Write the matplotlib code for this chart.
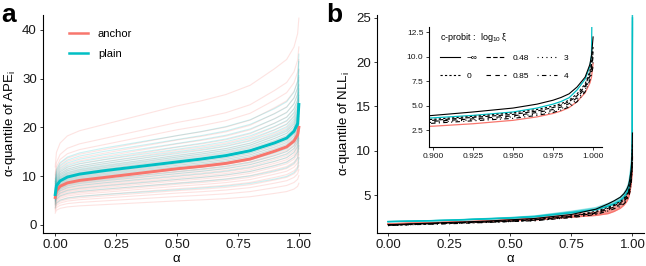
import numpy as np
import matplotlib
matplotlib.use("Agg")
import matplotlib.pyplot as plt

plt.rcParams['font.family'] = ['Liberation Sans', 'DejaVu Sans']
plt.rcParams['mathtext.fontset'] = 'custom'
plt.rcParams['mathtext.rm'] = 'Liberation Sans'
plt.rcParams['mathtext.it'] = 'Liberation Sans:italic'

RED = '#F8766D'
CYAN = '#00BFC4'

# ---- panel a data: alpha-quantile of APE_i ----
alpha_a = [0, 0.005, 0.02, 0.05, 0.1, 0.2, 0.3, 0.4, 0.5, 0.6, 0.7, 0.8, 0.9, 0.95, 0.98, 0.995, 1.0]
anchor_mean = [5.6, 7.0, 7.9, 8.6, 9.1, 9.7, 10.3, 10.9, 11.5, 12.0, 12.6, 13.5, 15.1, 16.0, 17.2, 18.5, 20.0]
plain_mean = [6.2, 8.0, 9.0, 9.8, 10.4, 11.1, 11.7, 12.3, 12.9, 13.5, 14.2, 15.2, 16.8, 17.8, 19.2, 20.8, 24.7]
# level of each faint per-item curve at alpha = 0.5
anchor_levels = [4.9, 5.8, 6.5, 7.0, 7.4, 7.9, 8.3, 8.6, 9.0, 9.3, 9.6, 9.9, 10.2, 10.5,
                 10.8, 11.0, 11.3, 11.6, 11.9, 12.2, 12.5, 12.8, 13.1, 13.5, 13.9, 14.3,
                 14.8, 15.3, 15.9, 16.6, 17.4, 18.3, 19.5, 21.0, 24.4]
plain_levels = [7.2, 8.5, 9.3, 10.0, 10.5, 10.9, 11.3, 11.6, 11.9, 12.2, 12.5, 12.8, 13.0,
                13.3, 13.6, 13.9, 14.2, 14.6, 15.0, 15.5, 16.0, 16.7, 17.5, 18.3]

# ---- panel b data: alpha-quantile of NLL_i ----
alpha_b = [0, 0.1, 0.25, 0.4, 0.5, 0.6, 0.75, 0.85, 0.9, 0.925, 0.95, 0.965, 0.975, 0.98,
           0.985, 0.99, 0.995, 0.998, 0.999, 1.0]
nll_anchor = [1.75, 1.8, 1.9, 2.0, 2.1, 2.2, 2.5, 2.7, 2.9, 3.15, 3.5, 3.85, 4.2, 4.45,
              4.8, 5.4, 6.3, 7.3, 7.9, 9.3]
nll_plain = [2.0, 2.05, 2.15, 2.3, 2.4, 2.55, 3.0, 3.35, 3.75, 4.0, 4.35, 4.75, 5.15, 5.42,
             5.8, 6.6, 7.7, 9.0, 10.2, 25.0]
anchor_spread = [1.0, 1.04, 1.08, 1.12, 1.16, 1.2, 1.24, 1.28, 1.32, 1.36, 1.4]
plain_spread = [0.95, 0.98, 1.01, 1.04, 1.07, 1.1, 1.14, 1.18]

xi_labels = ['\u2212\u221e', '0', '0.48', '0.85', '3', '4']
xi_dashes = [None, (2, 2), (4, 2), (4, 4), (1, 3), (1, 3, 4, 3)]
nll_cprobit = [
    [1.65, 1.75, 1.9, 2.05, 2.2, 2.35, 2.8, 3.4, 4.0, 4.35, 4.75, 5.15, 5.55, 5.83, 6.2, 6.9, 7.9, 9.2, 10.1, 12.0],
    [1.6, 1.7, 1.85, 2.0, 2.1, 2.25, 2.65, 3.15, 3.6, 3.9, 4.25, 4.6, 4.95, 5.2, 5.55, 6.2, 7.2, 8.5, 9.4, 11.0],
    [1.6, 1.7, 1.85, 1.95, 2.05, 2.2, 2.6, 3.05, 3.5, 3.8, 4.1, 4.45, 4.8, 5.05, 5.4, 6.0, 7.0, 8.3, 9.1, 10.5],
    [1.6, 1.7, 1.8, 1.95, 2.05, 2.15, 2.55, 2.95, 3.4, 3.65, 3.95, 4.3, 4.6, 4.85, 5.2, 5.8, 6.8, 8.0, 8.8, 10.0],
    [1.55, 1.65, 1.8, 1.9, 2.0, 2.1, 2.5, 2.85, 3.3, 3.55, 3.85, 4.15, 4.45, 4.7, 5.0, 5.6, 6.6, 7.8, 8.5, 9.5],
    [1.55, 1.65, 1.75, 1.9, 2.0, 2.1, 2.45, 2.8, 3.2, 3.45, 3.7, 4.0, 4.3, 4.55, 4.85, 5.4, 6.4, 7.6, 8.2, 9.0],
]


def style_axes(ax, fs=9.5):
    for s in ['top', 'right']:
        ax.spines[s].set_visible(False)
    for s in ['left', 'bottom']:
        ax.spines[s].set_linewidth(0.8)
    ax.tick_params(length=2.5, width=0.6, labelsize=fs, pad=2, colors='#1a1a1a')


fig = plt.figure(figsize=(6.46, 2.66), dpi=100)

# ---------------- panel a ----------------
ax1 = fig.add_axes([0.0666, 0.124, 0.413, 0.82])
a_a = np.array(alpha_a)
am = np.array(anchor_mean)
pm = np.array(plain_mean)
for lv in anchor_levels:
    ax1.plot(a_a, am * lv / anchor_mean[8], color=RED, alpha=0.2, lw=0.8)
for lv in plain_levels:
    ax1.plot(a_a, pm * lv / plain_mean[8], color=CYAN, alpha=0.2, lw=0.8)
ax1.plot(a_a, am, color=RED, lw=2.1, label='anchor')
ax1.plot(a_a, pm, color=CYAN, lw=2.1, label='plain')
ax1.set_xlim(-0.05, 1.045)
ax1.set_ylim(-1.7, 43.1)
ax1.set_xticks([0, 0.25, 0.5, 0.75, 1.0])
ax1.set_xticklabels(['0.00', '0.25', '0.50', '0.75', '1.00'])
ax1.set_yticks([0, 10, 20, 30, 40])
style_axes(ax1)
ax1.set_xlabel('\u03b1', fontsize=9.5, labelpad=1)
ax1.set_ylabel('\u03b1-quantile of APE$_{\\rm i}$', fontsize=9.5, labelpad=3)
leg = ax1.legend(loc='upper left', bbox_to_anchor=(0.06, 0.98), frameon=False,
                 fontsize=8, handlelength=1.7, handletextpad=0.9, labelspacing=0.9)
for h in leg.get_lines():
    h.set_linewidth(1.8)
fig.text(0.002, 0.99, 'a', fontsize=19, fontweight='bold', va='top', ha='left')

# ---------------- panel b ----------------
ax2 = fig.add_axes([0.5836, 0.124, 0.414, 0.82])
a_b = np.array(alpha_b)
na = np.array(nll_anchor)
npl = np.array(nll_plain)
for f in anchor_spread:
    ax2.plot(a_b, na[0] + f * (na - na[0]), color=RED, alpha=0.35, lw=0.9)
for f in plain_spread:
    ax2.plot(a_b, npl[0] + f * (npl - npl[0]), color=CYAN, alpha=0.3, lw=0.9)
ax2.plot(a_b, na, color=RED, lw=1.0)
ax2.plot(a_b, npl, color=CYAN, lw=1.0)
for vals, d in zip(nll_cprobit, xi_dashes):
    ln, = ax2.plot(a_b, vals, color='black', lw=0.8)
    if d is not None:
        ln.set_dashes(d)
ax2.set_xlim(-0.045, 1.049)
ax2.set_ylim(0.71, 25.34)
ax2.set_xticks([0, 0.25, 0.5, 0.75, 1.0])
ax2.set_xticklabels(['0.00', '0.25', '0.50', '0.75', '1.00'])
ax2.set_yticks([5, 10, 15, 20, 25])
style_axes(ax2)
ax2.set_xlabel('\u03b1', fontsize=9.5, labelpad=1)
ax2.set_ylabel('\u03b1-quantile of NLL$_{\\rm i}$', fontsize=9.5, labelpad=3)
fig.text(0.505, 0.99, 'b', fontsize=19, fontweight='bold', va='top', ha='left')

# ---------------- inset ----------------
ax3 = fig.add_axes([0.664, 0.447, 0.268, 0.451])
ax3.patch.set_alpha(0)
ax3.plot(a_b, na, color=RED, lw=0.9)
ax3.plot(a_b, npl, color=CYAN, lw=0.9)
handles = []
for vals, d, lab in zip(nll_cprobit, xi_dashes, xi_labels):
    ln, = ax3.plot(a_b, vals, color='black', lw=0.8, label=lab)
    if d is not None:
        ln.set_dashes(d)
    handles.append(ln)
ax3.set_xlim(0.8975, 1.0056)
ax3.set_ylim(0.77, 13.0)
ax3.set_xticks([0.9, 0.925, 0.95, 0.975, 1.0])
ax3.set_xticklabels(['0.900', '0.925', '0.950', '0.975', '1.000'])
ax3.set_yticks([2.5, 5.0, 7.5, 10.0, 12.5])
style_axes(ax3, fs=6)
ax3.tick_params(length=2)
lg = ax3.legend(handles=handles, ncol=3, loc='upper left', bbox_to_anchor=(0.02, 1.03),
                frameon=False, fontsize=6, title='c-probit :  log$_{10}$ \u03be',
                title_fontsize=6.5, handlelength=2.4, handletextpad=0.8,
                columnspacing=1.0, labelspacing=1.2, alignment='left')

fig.savefig('out.png', dpi=100)
